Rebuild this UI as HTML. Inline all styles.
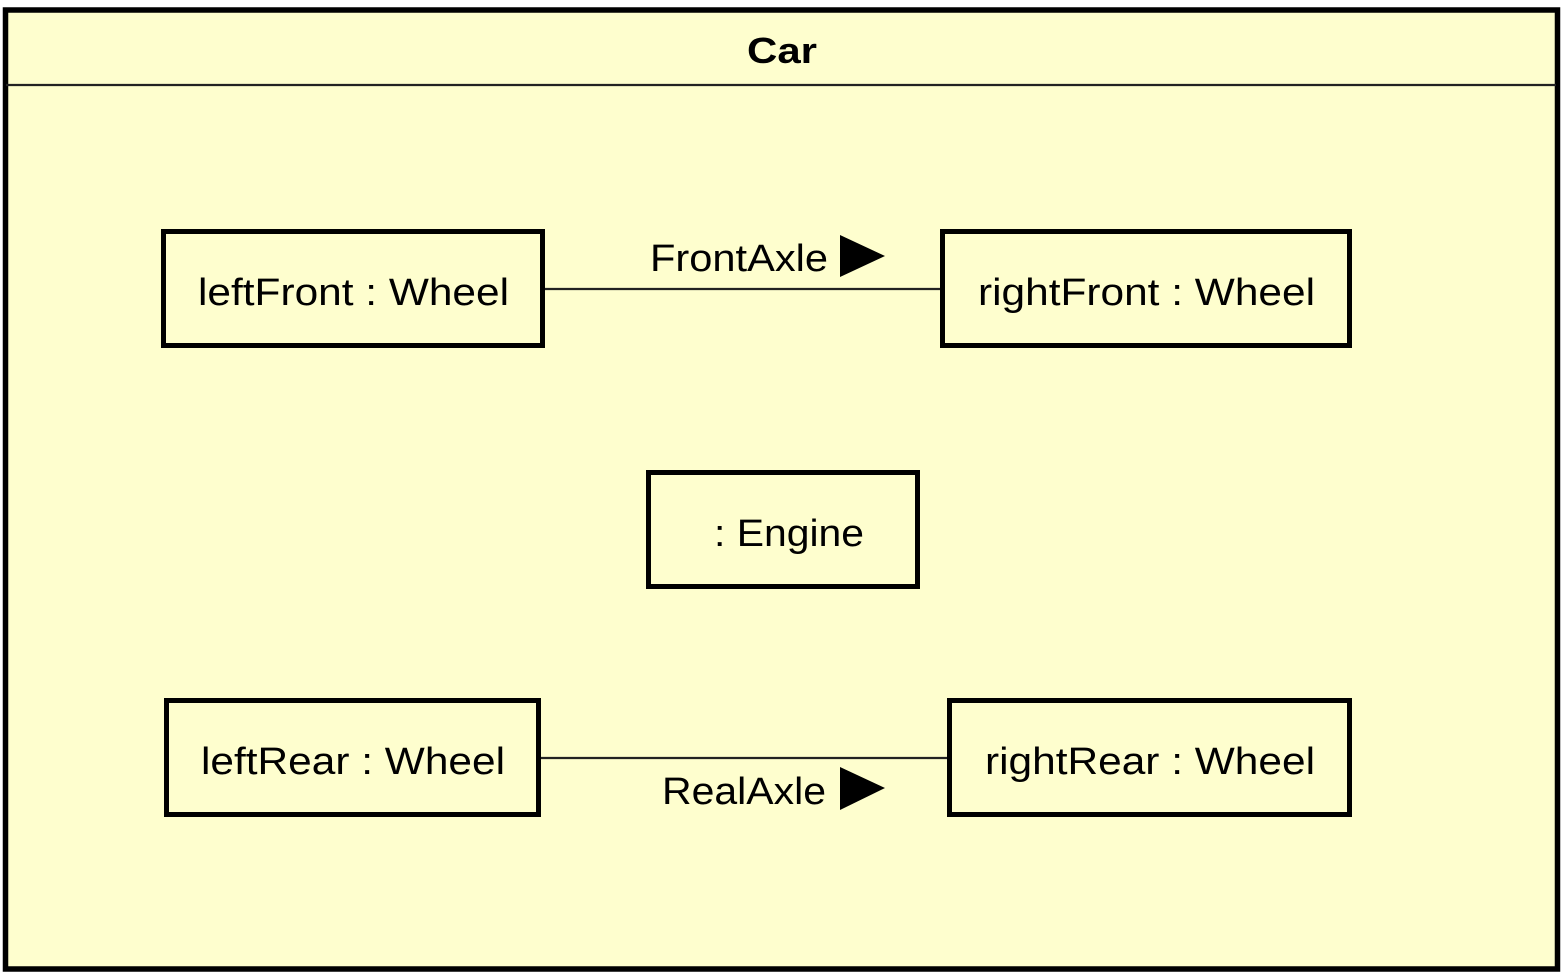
<!DOCTYPE html>
<html><head><meta charset="utf-8"><style>
html,body{margin:0;padding:0;background:#fff;}
svg{display:block;}
text{font-family:"Liberation Sans","DejaVu Sans",sans-serif;fill:#000;}
</style></head><body>
<svg width="1566" height="980" viewBox="0 0 1566 980" xmlns="http://www.w3.org/2000/svg">
<rect x="5.5" y="10" width="1552" height="959" fill="#FEFECE" stroke="#000" stroke-width="5.5"/>
<line x1="6" y1="85" x2="1556" y2="85" stroke="#222" stroke-width="2.2"/>
<text x="782" y="63" font-size="36" font-weight="bold" text-anchor="middle" textLength="70" lengthAdjust="spacingAndGlyphs">Car</text>

<line x1="545" y1="289" x2="940" y2="289" stroke="#222" stroke-width="2.2"/>
<line x1="541" y1="758" x2="947" y2="758" stroke="#222" stroke-width="2.2"/>

<rect x="163.5" y="231.5" width="379" height="114" fill="#FEFECE" stroke="#000" stroke-width="5"/>
<rect x="942.5" y="231.5" width="407" height="114" fill="#FEFECE" stroke="#000" stroke-width="5"/>
<rect x="648.5" y="472.5" width="269" height="114" fill="#FEFECE" stroke="#000" stroke-width="5"/>
<rect x="166.5" y="700.5" width="372" height="114" fill="#FEFECE" stroke="#000" stroke-width="5"/>
<rect x="949.5" y="700.5" width="400" height="114" fill="#FEFECE" stroke="#000" stroke-width="5"/>

<text x="198" y="305" font-size="38" textLength="311" lengthAdjust="spacingAndGlyphs">leftFront : Wheel</text>
<text x="978" y="305" font-size="38" textLength="337" lengthAdjust="spacingAndGlyphs">rightFront : Wheel</text>
<text x="714" y="546" font-size="38" textLength="150" lengthAdjust="spacingAndGlyphs">: Engine</text>
<text x="201" y="774" font-size="38" textLength="304" lengthAdjust="spacingAndGlyphs">leftRear : Wheel</text>
<text x="985" y="774" font-size="38" textLength="330" lengthAdjust="spacingAndGlyphs">rightRear : Wheel</text>

<text x="650" y="271" font-size="38" textLength="178" lengthAdjust="spacingAndGlyphs">FrontAxle</text>
<polygon points="840,235 885,256 840,277" fill="#000"/>
<text x="662" y="804" font-size="38" textLength="164" lengthAdjust="spacingAndGlyphs">RealAxle</text>
<polygon points="840,767 885,788 840,810" fill="#000"/>
</svg>
</body></html>
